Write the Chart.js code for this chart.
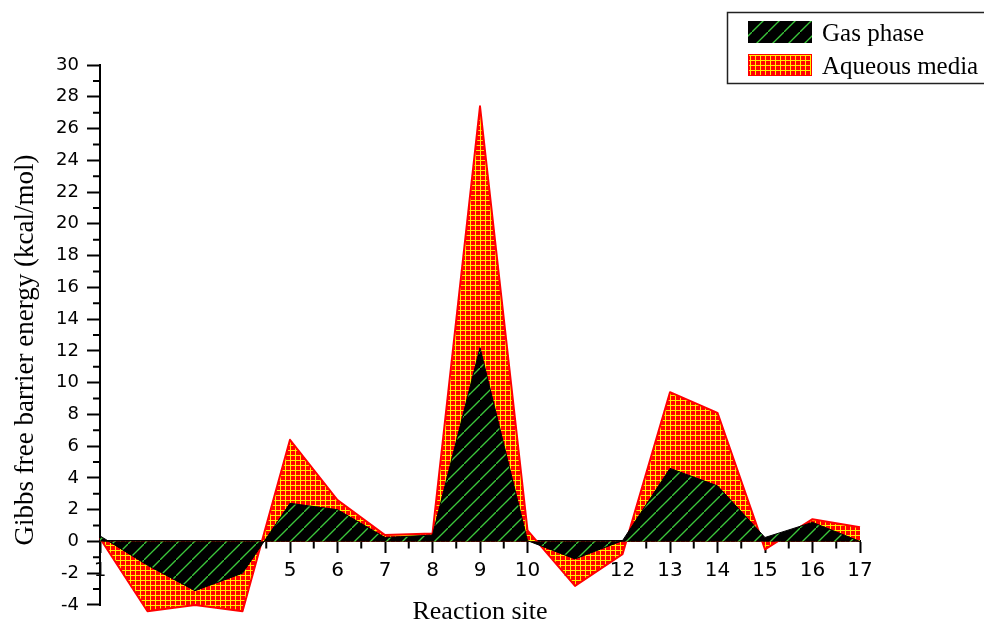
<!DOCTYPE html>
<html>
<head>
<meta charset="utf-8">
<script src="https://cdn.jsdelivr.net/npm/chart.js@4"></script>
<style>
  body { margin: 0; background: #fff; }
  #wrap { width: 984px; height: 621px; position: relative; }
</style>
</head>
<body>
<div id="wrap"><canvas id="chart"></canvas></div>
<script>
// data
const sites = ["1", "2", "3", "4", "5", "6", "7", "8", "9", "10", "11", "12", "13", "14", "15", "16", "17"];
const gasPhase = [0.35, -1.5, -3.1, -2.0, 2.4, 2.0, 0.25, 0.4, 12.2, 0.05, -1.1, 0.05, 4.6, 3.5, 0.25, 1.2, 0];
const aqueousMedia = [0.2, -4.4, -4.0, -4.4, 6.4, 2.6, 0.4, 0.5, 27.4, 0.7, -2.8, -0.8, 9.4, 8.1, -0.5, 1.4, 0.9];
const seriesNames = ["Gas phase", "Aqueous media"];
const yTicks = { min: -4, max: 30, step: 2 };
const yFloor = -4.6; // fill runs a bit below the last tick

// hatch patterns
function hatchPattern() {
  const c = document.createElement("canvas");
  c.width = 16; c.height = 16;
  const g = c.getContext("2d");
  g.fillStyle = "#000";
  g.fillRect(0, 0, 16, 16);
  g.strokeStyle = "#3cc83c";
  g.lineWidth = 1.3;
  g.beginPath();
  g.moveTo(-2, 18); g.lineTo(18, -2);
  g.stroke();
  return g.createPattern(c, "repeat");
}
function gridPattern() {
  const c = document.createElement("canvas");
  c.width = 5; c.height = 5;
  const g = c.getContext("2d");
  g.fillStyle = "#ff0000";
  g.fillRect(0, 0, 5, 5);
  g.fillStyle = "#ffee00";
  g.fillRect(0, 0, 5, 1);
  g.fillRect(0, 0, 1, 5);
  return g.createPattern(c, "repeat");
}
const gasFill = hatchPattern();
const aqFill = gridPattern();

// y axis line, minor ticks, titles and legend
const extras = {
  id: "extras",
  beforeDatasetsDraw(chart) {
    const ctx = chart.ctx, x = chart.scales.x, y = chart.scales.y;
    const y0 = y.getPixelForValue(0);
    ctx.save();
    ctx.strokeStyle = "#000";
    ctx.lineWidth = 2;
    ctx.beginPath();
    ctx.moveTo(x.left, y.getPixelForValue(yTicks.max) - 1);
    ctx.lineTo(x.left, y.getPixelForValue(yTicks.min) + 1);
    for (let i = 0; i < sites.length - 1; i++) {
      const px = x.getPixelForValue(i + 0.5);
      ctx.moveTo(px, y0); ctx.lineTo(px, y0 + 7);
    }
    for (let v = yTicks.min + 1; v < yTicks.max; v += 2) {
      const py = y.getPixelForValue(v);
      ctx.moveTo(x.left - 7, py); ctx.lineTo(x.left, py);
    }
    ctx.stroke();
    ctx.restore();
  },
  afterDraw(chart) {
    const ctx = chart.ctx;
    ctx.save();
    ctx.fillStyle = "#000";
    ctx.font = "26px 'Liberation Serif'";
    ctx.textAlign = "center";
    ctx.textBaseline = "alphabetic";
    ctx.fillText("Reaction site", 480, 619);
    ctx.save();
    ctx.translate(33, 350);
    ctx.rotate(-Math.PI / 2);
    ctx.font = "27px 'Liberation Serif'";
    ctx.fillText("Gibbs free barrier energy (kcal/mol)", 0, 0);
    ctx.restore();
    // legend box
    ctx.lineWidth = 1.5;
    ctx.strokeStyle = "#222";
    ctx.strokeRect(727.5, 12.5, 300, 71);
    const ds = chart.data.datasets;
    const rows = [21, 54];
    ctx.font = "25px 'Liberation Serif'";
    ctx.textAlign = "left";
    ds.forEach((d, i) => {
      ctx.fillStyle = d.backgroundColor;
      ctx.fillRect(748, rows[i], 64, 22);
      if (i === 1) {
        ctx.strokeStyle = "#ff0000";
        ctx.lineWidth = 1;
        ctx.strokeRect(748.5, rows[i] + 0.5, 63, 21);
      }
      ctx.fillStyle = "#000";
      ctx.fillText(d.label, 822, rows[i] + 20);
    });
    ctx.restore();
  }
};

new Chart(document.getElementById("chart"), {
  type: "line",
  data: {
    labels: sites,
    datasets: [
      {
        label: seriesNames[0],
        data: gasPhase,
        backgroundColor: gasFill,
        borderColor: "#000",
        borderWidth: 1,
        borderJoinStyle: "round",
        fill: "origin",
        pointRadius: 0,
        tension: 0,
      },
      {
        label: seriesNames[1],
        data: aqueousMedia,
        backgroundColor: aqFill,
        borderColor: "#ff0000",
        borderWidth: 2,
        borderJoinStyle: "round",
        fill: "origin",
        pointRadius: 0,
        tension: 0,
      },
    ],
  },
  options: {
    responsive: true,
    maintainAspectRatio: false,
    animation: false,
    layout: { padding: { left: 0, top: 65, right: 124, bottom: 6.5 } },
    plugins: { legend: { display: false }, tooltip: { enabled: false } },
    scales: {
      x: {
        type: "category",
        position: { y: 0 },
        offset: false,
        grid: { drawOnChartArea: false, tickLength: 11, tickWidth: 2, tickColor: "#000" },
        border: { display: true, color: "#000", width: 2 },
        ticks: {
          autoSkip: false,
          maxRotation: 0,
          padding: 6,
          color: "#000",
          font: { family: "DejaVu Sans", size: 20 },
        },
        afterFit(scale) { scale.height = 0; },
      },
      y: {
        min: yFloor,
        max: yTicks.max,
        grid: { drawOnChartArea: false, tickLength: 13, tickWidth: 2, tickColor: "#000" },
        border: { display: false },
        ticks: {
          padding: 8,
          color: "#000",
          font: { family: "DejaVu Sans", size: 18 },
        },
        afterBuildTicks(scale) {
          const t = [];
          for (let v = yTicks.min; v <= yTicks.max; v += yTicks.step) t.push({ value: v });
          scale.ticks = t;
        },
        afterFit(scale) {
          scale.width = 100;
          scale.paddingTop = 0;
          scale.paddingBottom = 0;
        },
      },
    },
  },
  plugins: [extras],
});
</script>
</body>
</html>
